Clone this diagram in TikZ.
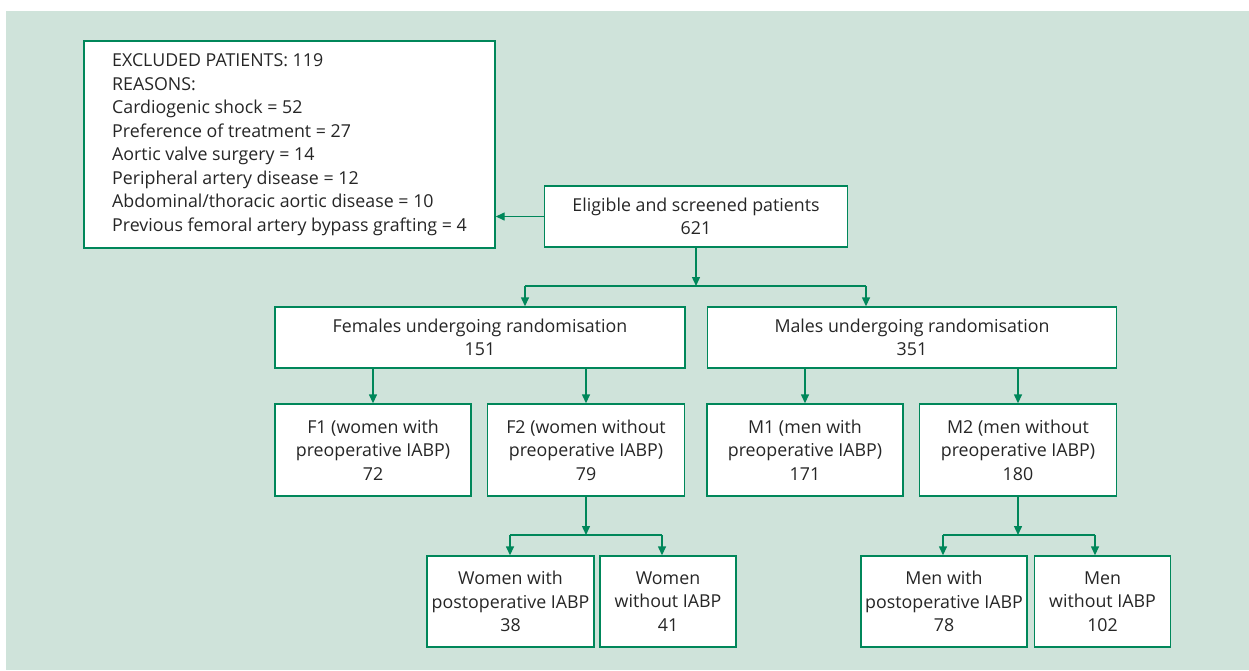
\documentclass[tikz,border=0pt]{standalone}
\usepackage{fontspec}
\setmainfont{Open Sans}
\usetikzlibrary{arrows.meta}
\definecolor{bggreen}{HTML}{CFE3DA}
\definecolor{lgreen}{HTML}{00875A}
\definecolor{tgray}{HTML}{262626}
\tikzset{
  box/.style={draw=lgreen, line width=1.4pt, fill=white, align=center, inner sep=0pt,
    text=tgray, font=\fontsize{17.8}{23.5}\selectfont},
  conn/.style={draw=lgreen, line width=1.4pt},
  arr/.style={conn, -{Triangle[length=9pt,width=8pt]}},
}
\begin{document}
\begin{tikzpicture}[x=1pt,y=-1pt]
\useasboundingbox (0,0) rectangle (1249,670);
\fill[bggreen] (6,11) rectangle (1249,670);
\node[box, align=left, minimum width=411pt, minimum height=207pt] (excl) at (289.5,144.5)
  {EXCLUDED PATIENTS: 119\\REASONS:\\Cardiogenic shock = 52\\Preference of treatment = 27\\Aortic valve surgery = 14\\Peripheral artery disease = 12\\Abdominal/thoracic aortic disease = 10\\Previous femoral artery bypass grafting = 4};
\node[box, minimum width=303pt, minimum height=61pt] (elig) at (696,216.5) {Eligible and screened patients\\621};
\node[box, minimum width=410pt, minimum height=61pt] (fem) at (480,337.5) {Females undergoing randomisation\\151};
\node[box, minimum width=409pt, minimum height=61pt] (mal) at (912,337.5) {Males undergoing randomisation\\351};
\node[box, minimum width=196pt, minimum height=92pt] (f1) at (373,450) {F1 (women with\\preoperative IABP)\\72};
\node[box, minimum width=197pt, minimum height=92pt] (f2) at (586,450) {F2 (women without\\preoperative IABP)\\79};
\node[box, minimum width=196pt, minimum height=92pt] (m1) at (805,450) {M1 (men with\\preoperative IABP)\\171};
\node[box, minimum width=197pt, minimum height=92pt] (m2) at (1018,450) {M2 (men without\\preoperative IABP)\\180};
\node[box, minimum width=167pt, minimum height=91pt] (w1) at (510.5,601.5) {Women with\\postoperative IABP\\38};
\node[box, minimum width=136pt, minimum height=91pt] (w2) at (668,601.5) {Women\\without IABP\\41};
\node[box, minimum width=166pt, minimum height=91pt] (n1) at (944,601.5) {Men with\\postoperative IABP\\78};
\node[box, minimum width=136pt, minimum height=91pt] (n2) at (1102.5,601.5) {Men\\without IABP\\102};
% connectors
\draw[arr] (elig.west) -- (excl.east |- elig.west);
\coordinate (j0) at (696,286);
\coordinate (jL) at (525,286);
\coordinate (jR) at (866,286);
\draw[arr] (elig.south) -- (j0);
\draw[conn] (jL) -- (jR);
\draw[arr] (jL) -- (jL |- fem.north);
\draw[arr] (jR) -- (jR |- mal.north);
\draw[arr] (f1.north |- fem.south) -- (f1.north);
\draw[arr] (f2.north |- fem.south) -- (f2.north);
\draw[arr] (m1.north |- mal.south) -- (m1.north);
\draw[arr] (m2.north |- mal.south) -- (m2.north);
\coordinate (jf) at (586,535);
\coordinate (jfL) at (510,535);
\coordinate (jfR) at (662,535);
\draw[arr] (f2.south) -- (jf);
\draw[conn] (jfL) -- (jfR);
\draw[arr] (jfL) -- (jfL |- w1.north);
\draw[arr] (jfR) -- (jfR |- w2.north);
\coordinate (jm) at (1018,535);
\coordinate (jmL) at (943,535);
\coordinate (jmR) at (1095,535);
\draw[arr] (m2.south) -- (jm);
\draw[conn] (jmL) -- (jmR);
\draw[arr] (jmL) -- (jmL |- n1.north);
\draw[arr] (jmR) -- (jmR |- n2.north);
\end{tikzpicture}
\end{document}
